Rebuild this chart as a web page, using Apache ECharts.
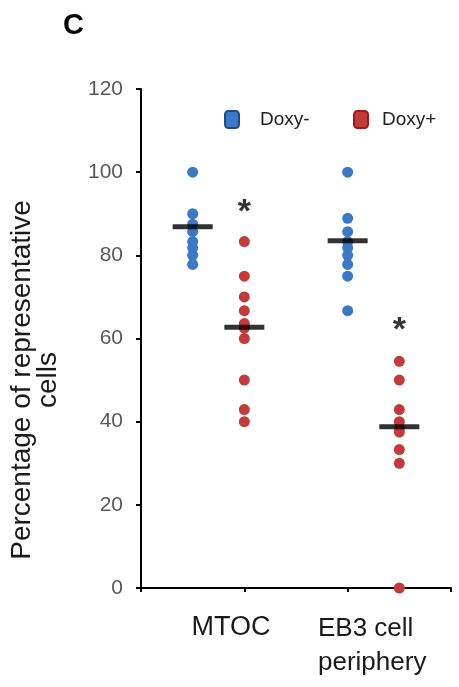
<!DOCTYPE html>
<html>
<head>
<meta charset="utf-8">
<script src="https://cdn.jsdelivr.net/npm/echarts@6/dist/echarts.min.js"></script>
<style>
  html, body { margin: 0; padding: 0; background: #fff; }
  #chart { width: 459px; height: 687px; }
</style>
</head>
<body>
<div id="chart"></div>
<script>
// Groups and where each group's columns sit on the x scale
const categories = ['MTOC', 'EB3 cell\nperiphery'];
const xDoxyMinus = [0.5, 2.0];
const xDoxyPlus = [1.0, 2.5];

// Percentage of representative cells, per experiment
const mtocDoxyMinus = [100, 90, 87.5, 85.7, 83.3, 81.8, 80, 77.8];
const mtocDoxyPlus = [83.3, 75, 70, 66.7, 63.6, 62.5, 60, 50, 42.9, 40];
const eb3DoxyMinus = [100, 88.9, 85.7, 83.3, 81.8, 80, 77.8, 75, 66.7];
const eb3DoxyPlus = [54.5, 50, 42.9, 40, 38.5, 37.5, 33.3, 30, 0];

// Group means (black bars)
const meanDoxyMinus = [86.9, 83.5];
const meanDoxyPlus = [62.7, 38.8];

// Significance marks above the Doxy+ columns
const starX = [1.0, 2.5];
const starY = [92, 63.5];

const yTicks = [0, 20, 40, 60, 80, 100, 120];

const BLUE = '#3b79c6';
const RED = '#c23a3a';
const FONT = '"Liberation Sans", Arial, sans-serif';

function column(x, values) { return values.map(v => [x, v]); }

const minusData = column(xDoxyMinus[0], mtocDoxyMinus).concat(column(xDoxyMinus[1], eb3DoxyMinus));
const plusData = column(xDoxyPlus[0], mtocDoxyPlus).concat(column(xDoxyPlus[1], eb3DoxyPlus));
const meanData = meanDoxyMinus.map((m, i) => [xDoxyMinus[i], m])
  .concat(meanDoxyPlus.map((m, i) => [xDoxyPlus[i], m]));
const starData = starX.map((x, i) => [x, starY[i]]);

const legendBase = {
  top: 105, itemWidth: 14, itemHeight: 17, icon: 'roundRect',
  textStyle: { fontFamily: FONT, fontSize: 19, color: '#222' }
};

const chart = echarts.init(document.getElementById('chart'), null, { renderer: 'canvas' });

chart.setOption({
  animation: false,
  backgroundColor: '#fff',
  grid: { left: 141, right: 8, top: 89, bottom: 99, containLabel: false },
  legend: [
    Object.assign({}, legendBase, {
      left: 219,
      textStyle: Object.assign({}, legendBase.textStyle, { padding: [0, 0, 0, 16] }),
      data: [{ name: 'Doxy-', itemStyle: { color: BLUE, borderColor: '#1d4a8a', borderWidth: 2 } }]
    }),
    Object.assign({}, legendBase, {
      left: 348,
      textStyle: Object.assign({}, legendBase.textStyle, { padding: [0, 0, 0, 9] }),
      data: [{ name: 'Doxy+', itemStyle: { color: RED, borderColor: '#a01818', borderWidth: 2 } }]
    })
  ],
  xAxis: {
    type: 'value', min: 0, max: 3, interval: 1,
    axisLine: { show: true, lineStyle: { color: '#000', width: 2 } },
    axisTick: { show: true, length: 4, lineStyle: { color: '#000', width: 2 } },
    axisLabel: { show: false },
    splitLine: { show: false }
  },
  yAxis: {
    type: 'value', min: yTicks[0], max: yTicks[yTicks.length - 1], interval: 20,
    axisLine: { show: true, lineStyle: { color: '#000', width: 2 } },
    axisTick: { show: true, length: 5, lineStyle: { color: '#000', width: 2 } },
    axisLabel: { fontFamily: FONT, fontSize: 21, color: '#595959', margin: 18 },
    splitLine: { show: false }
  },
  series: [
    {
      name: 'Doxy-', type: 'scatter', symbol: 'circle', symbolSize: 11,
      itemStyle: { color: BLUE, opacity: 1 }, data: minusData, z: 2
    },
    {
      name: 'Doxy+', type: 'scatter', symbol: 'circle', symbolSize: 11,
      itemStyle: { color: RED, opacity: 1 }, data: plusData, z: 2
    },
    {
      name: 'mean', type: 'scatter', symbol: 'rect', symbolSize: [40, 5],
      itemStyle: { color: '#000' }, data: meanData, z: 3, silent: true
    },
    {
      name: 'sig', type: 'scatter', symbolSize: 1, itemStyle: { color: 'rgba(0,0,0,0)' },
      data: starData, z: 4, silent: true,
      label: { show: true, position: 'inside', formatter: '*', fontFamily: FONT,
               fontSize: 34, fontWeight: 'bold', color: '#000', offset: [0, 7] }
    }
  ],
  graphic: [
    { type: 'text', left: 63, top: 11,
      style: { text: 'C', fontFamily: FONT, fontSize: 29, fontWeight: 'bold', fill: '#000' } },
    { type: 'text', x: 35, y: 380, rotation: Math.PI / 2, originX: 0, originY: 0,
      style: { text: 'Percentage of representative\ncells', fontFamily: FONT, fontSize: 28,
               fill: '#1a1a1a', align: 'center', verticalAlign: 'middle', lineHeight: 26 } },
    { type: 'text', x: 231, y: 628,
      style: { text: categories[0], fontFamily: FONT, fontSize: 27, fill: '#1a1a1a',
               align: 'center', verticalAlign: 'middle' } },
    { type: 'text', x: 318, y: 612,
      style: { text: categories[1], fontFamily: FONT, fontSize: 26, fill: '#1a1a1a',
               align: 'left', verticalAlign: 'top', lineHeight: 34 } }
  ]
});
</script>
</body>
</html>
